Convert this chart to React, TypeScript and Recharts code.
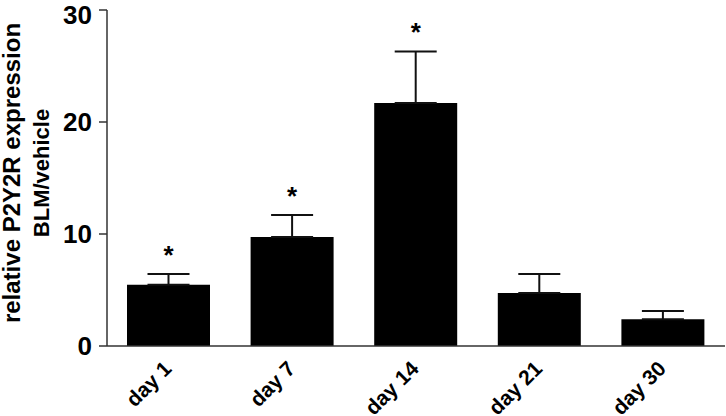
import React from 'react';
import { BarChart, Bar, XAxis, YAxis, ErrorBar, LabelList, Label } from 'recharts';

const categories = ['day 1', 'day 7', 'day 14', 'day 21', 'day 30'];
const means = [5.47, 9.73, 21.7, 4.73, 2.38];
const sems = [0.96, 1.97, 4.6, 1.7, 0.75];
const significance = ['*', '*', '*', '', ''];
const yTicks = [0, 10, 20, 30];

const data = categories.map((c, i) => ({
  name: c,
  value: means[i],
  err: [0, sems[i]],
  sig: significance[i],
}));

const FONT = 'Liberation Sans, Arial, sans-serif';

const XTick = (props: any) => {
  const { x, y, payload } = props;
  const tx = x + 4;
  const ty = y + 22;
  return (
    <text
      x={tx}
      y={ty}
      transform={`rotate(-45, ${tx}, ${ty})`}
      textAnchor="end"
      fontFamily={FONT}
      fontWeight="bold"
      fontSize={21}
      fill="#000"
    >
      {payload.value}
    </text>
  );
};

const SigLabel = (props: any) => {
  const { x, y, width, height, index } = props;
  const s = significance[index];
  if (!s) return null;
  const v = means[index];
  const pxPerUnit = height / v;
  const errTop = y - sems[index] * pxPerUnit;
  const cx = x + width / 2;
  return (
    <text x={cx} y={errTop - 10} textAnchor="middle" fontFamily={FONT} fontWeight="bold" fontSize={26} fill="#000">
      {s}
    </text>
  );
};

const YLabel = (props: any) => {
  const vb = props.viewBox || {};
  const cy = vb.y + vb.height / 2 - 5;
  return (
    <g>
      <text
        x={20}
        y={cy}
        transform={`rotate(-90, 20, ${cy})`}
        textAnchor="middle"
        fontFamily={FONT}
        fontWeight="bold"
        fontSize={24}
        fill="#000"
      >
        relative P2Y2R expression
      </text>
      <text
        x={48.5}
        y={cy}
        transform={`rotate(-90, 48.5, ${cy})`}
        textAnchor="middle"
        fontFamily={FONT}
        fontWeight="bold"
        fontSize={22}
        fill="#000"
      >
        BLM/vehicle
      </text>
    </g>
  );
};

export default function App() {
  return (
    <div style={{ position: 'absolute', left: 0, top: 0, width: 726, height: 416, background: '#fff' }}>
      <BarChart
        width={726}
        height={416}
        data={data}
        margin={{ top: 10, right: 1, left: 0, bottom: 0 }}
        barSize={83}
      >
        <XAxis
          dataKey="name"
          height={70}
          tickLine={false}
          tickSize={0}
          tick={<XTick />}
          axisLine={{ stroke: '#333', strokeWidth: 1.5 }}
          interval={0}
        />
        <YAxis
          width={107}
          domain={[0, 30]}
          ticks={yTicks}
          tickSize={8}
          tickMargin={7}
          axisLine={{ stroke: '#333', strokeWidth: 1.5 }}
          tickLine={{ stroke: '#333', strokeWidth: 1.5 }}
          tick={{ fontFamily: FONT, fontWeight: 'bold', fontSize: 26, fill: '#000' }}
        >
          <Label content={<YLabel />} />
        </YAxis>
        <Bar dataKey="value" fill="#000" isAnimationActive={false}>
          <ErrorBar dataKey="err" direction="y" width={21} stroke="#111" strokeWidth={2} />
          <LabelList dataKey="sig" content={<SigLabel />} />
        </Bar>
      </BarChart>
    </div>
  );
}
